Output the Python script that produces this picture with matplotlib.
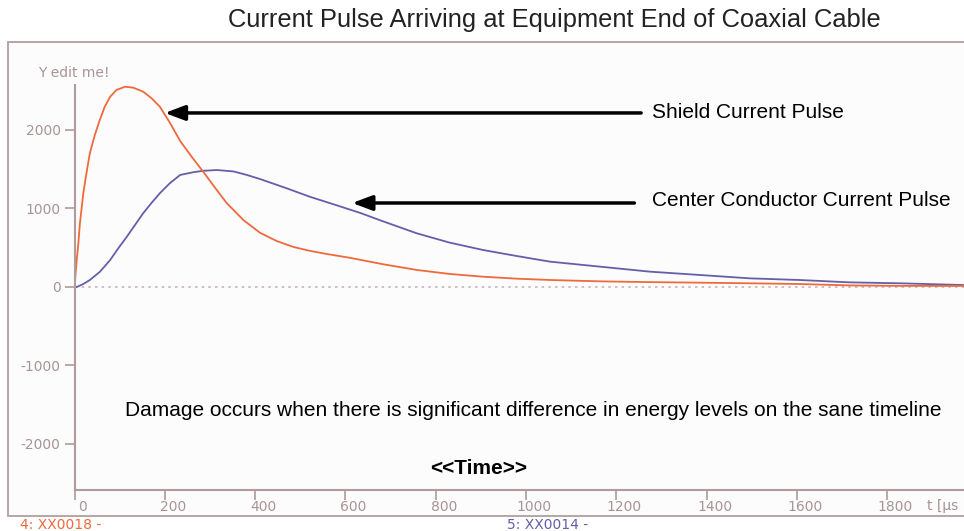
import matplotlib.pyplot as plt
import matplotlib.transforms as mtransforms
from matplotlib.patches import Rectangle

plt.rcParams['font.family'] = ['Liberation Sans', 'DejaVu Sans']
plt.rcParams['axes.unicode_minus'] = False

# Valeurs (t en µs)
t_shield = [0, 5, 8.5, 12, 19.5, 27, 34, 45, 56, 67, 79, 93, 112, 130, 152, 171,
            189, 211, 234, 260, 285, 315, 337, 374, 411, 448, 485, 520, 559, 610,
            684, 758, 831, 905, 979, 1053, 1164, 1275, 1385, 1496, 1606, 1717,
            1829, 1968]
i_shield = [0, 344, 556, 811, 1194, 1469, 1703, 1936, 2127, 2297, 2424, 2510,
            2551, 2539, 2488, 2403, 2297, 2095, 1860, 1655, 1469, 1236, 1070, 853,
            690, 585, 510, 462, 420, 372, 289, 217, 166, 131, 106, 89, 72, 62, 55,
            47, 38, 20, 14, 13]

t_center = [0, 5, 19.5, 34, 56.5, 79, 97, 116, 134, 152, 171, 189, 211, 234, 263,
            285, 315, 352, 380, 411, 470, 521, 581, 632, 684, 758, 831, 905, 979,
            1053, 1164, 1275, 1385, 1496, 1606, 1717, 1829, 1968]
i_center = [0, 0, 38, 89, 195, 344, 493, 641, 790, 939, 1074, 1194, 1321, 1427,
            1462, 1480, 1490, 1472, 1430, 1375, 1257, 1150, 1040, 945, 835, 684,
            565, 471, 395, 323, 259, 195, 153, 110, 89, 59, 47, 25]

x_ticks = [0, 200, 400, 600, 800, 1000, 1200, 1400, 1600, 1800]
y_ticks = [-2000, -1000, 0, 1000, 2000]

col_shield = '#ee6a3c'
col_center = '#645fa8'
col_axis = '#b09a9a'
col_lbl = '#a89494'
tick_font = 'DejaVu Sans'

fig = plt.figure(figsize=(9.64, 5.31), dpi=100)

# cadre extérieur
frame = Rectangle((8 / 964, 15 / 531), 1.0, 474 / 531, transform=fig.transFigure,
                  facecolor='#fcfcfd', edgecolor='#b8a4a4', linewidth=1.4, zorder=0)
fig.add_artist(frame)

ax = fig.add_axes([74.5 / 964, 41 / 531, 903 / 964, 405 / 531])
ax.set_facecolor('none')
ax.set_xlim(0, 2000)
ax.set_ylim(-2586, 2573)

ax.plot(t_center, i_center, color=col_center, linewidth=1.3)
ax.plot(t_shield, i_shield, color=col_shield, linewidth=1.3)
ax.axhline(0, color='#c8b4b4', linestyle=(0, (1.5, 2.5)), linewidth=1.2, zorder=0)

for s in ['top', 'right']:
    ax.spines[s].set_visible(False)
for s in ['left', 'bottom']:
    ax.spines[s].set_color(col_axis)
    ax.spines[s].set_linewidth(1.5)

ax.set_xticks(x_ticks)
ax.set_yticks(y_ticks)
ax.tick_params(axis='both', colors=col_axis, labelcolor=col_lbl, labelsize=10,
               length=7, width=1.2, direction='out')
ax.tick_params(axis='x', pad=0)
ax.tick_params(axis='y', pad=3)
for lbl in ax.get_xticklabels() + ax.get_yticklabels():
    lbl.set_family(tick_font)
offset = mtransforms.ScaledTranslation(0.08, 0, fig.dpi_scale_trans)
for lbl in ax.get_xticklabels():
    lbl.set_transform(lbl.get_transform() + offset)

ax.text(1888, -2790, 't [µs', color=col_lbl, fontsize=10, family=tick_font,
        ha='left', va='center', clip_on=False)
ax.text(-81, 2726, 'Y edit me!', color=col_lbl, fontsize=10, family=tick_font,
        ha='left', va='center', clip_on=False)

# flèches et annotations
ax.annotate('', xy=(200, 2217), xytext=(1255, 2217),
            arrowprops=dict(arrowstyle='-|>,head_length=1.2,head_width=0.45',
                            color='black', lw=2.5, shrinkA=0, shrinkB=0))
ax.text(1280, 2217, 'Shield Current Pulse', fontsize=15, ha='left', va='center')
ax.annotate('', xy=(615, 1070), xytext=(1240, 1070),
            arrowprops=dict(arrowstyle='-|>,head_length=1.2,head_width=0.45',
                            color='black', lw=2.5, shrinkA=0, shrinkB=0))
ax.text(1280, 1108, 'Center Conductor Current Pulse', fontsize=15, ha='left',
        va='center')
ax.text(1016, -1567, 'Damage occurs when there is significant difference in energy '
        'levels on the sane timeline', fontsize=15, ha='center', va='center')
ax.text(896, -2306, '<<Time>>', fontsize=15, fontweight='bold', ha='center',
        va='center')

fig.text(554 / 964, 1 - 20 / 531, 'Current Pulse Arriving at Equipment End of Coaxial Cable',
         fontsize=18.4, ha='center', va='center', color='#222222')
fig.text(20 / 964, 1 - 525 / 531, '4: XX0018 -', fontsize=10, family=tick_font,
         color=col_shield, ha='left', va='center')
fig.text(507 / 964, 1 - 525 / 531, '5: XX0014 -', fontsize=10, family=tick_font,
         color=col_center, ha='left', va='center')

fig.savefig('out.png', dpi=100)
